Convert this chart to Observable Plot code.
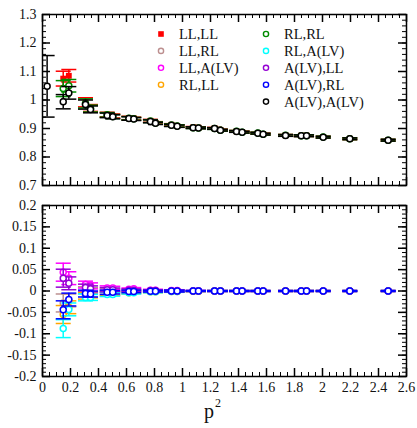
<!DOCTYPE html>
<html><head><meta charset="utf-8">
<script src="https://cdn.jsdelivr.net/npm/d3@7"></script>
<script src="https://cdn.jsdelivr.net/npm/@observablehq/plot@0.6"></script>
<style>
html,body{margin:0;padding:0;background:#fff;}
#wrap{position:relative;width:417px;height:428px;overflow:hidden;font-family:"Liberation Serif",serif;}
#top,#bot,#over{position:absolute;left:0;}
#top{top:0}#bot{top:195px}#over{top:0;pointer-events:none}
</style></head><body>
<div id="wrap"><div id="top"></div><div id="bot"></div><svg id="over" width="417" height="428"></svg></div>
<script>
// ---------- data ----------
const pSq = [0.033, 0.148, 0.188, 0.307, 0.343, 0.462, 0.502, 0.617, 0.652, 0.771, 0.807, 0.921, 0.962,
  1.076, 1.114, 1.229, 1.271, 1.386, 1.426, 1.538, 1.576, 1.736, 1.848, 1.886, 2.005, 2.195, 2.469];
const pSqMain = pSq.slice(1);

const seriesNames = ["LL,LL", "LL,RL", "LL,A(LV)", "RL,LL", "RL,RL", "RL,A(LV)", "A(LV),LL", "A(LV),RL", "A(LV),A(LV)"];
const seriesColors = ["#ff0000", "#bc8f8f", "#ff00ff", "#ffa500", "#008b00", "#00ffff", "#9400d3", "#0000ff", "#000000"];

// diagonal (top panel)
const yLLLL = [1.075, 1.085, 0.992, 0.972, 0.949, 0.944, 0.937, 0.935, 0.927, 0.920, 0.913, 0.909, 0.904, 0.903, 0.901, 0.895, 0.890, 0.888, 0.884, 0.881, 0.876, 0.875, 0.875, 0.870, 0.864, 0.859];
const eLLLL = [0.026, 0.022, 0.016, 0.012, 0.008, 0.007, 0.006, 0.005, 0.005, 0.004, 0.004, 0.004, 0.003, 0.003, 0.003, 0.003, 0.003, 0.003, 0.003, 0.003, 0.003, 0.003, 0.003, 0.003, 0.003, 0.003];
const yRLRL = [1.040, 1.050, 0.988, 0.970, 0.948, 0.942, 0.936, 0.934, 0.926, 0.919, 0.912, 0.909, 0.903, 0.902, 0.900, 0.894, 0.890, 0.887, 0.884, 0.880, 0.876, 0.875, 0.875, 0.870, 0.864, 0.859];
const eRLRL = [0.028, 0.022, 0.016, 0.012, 0.008, 0.007, 0.006, 0.005, 0.005, 0.004, 0.004, 0.004, 0.003, 0.003, 0.003, 0.003, 0.003, 0.003, 0.003, 0.003, 0.003, 0.003, 0.003, 0.003, 0.003, 0.003];
const yAA = [1.048, 0.994, 1.025, 0.984, 0.967, 0.946, 0.941, 0.935, 0.933, 0.925, 0.918, 0.911, 0.908, 0.903, 0.902, 0.900, 0.894, 0.8895, 0.887, 0.8835, 0.880, 0.8755, 0.8745, 0.8745, 0.8695, 0.864, 0.859];
const eAA = [0.108, 0.025, 0.022, 0.016, 0.012, 0.008, 0.007, 0.006, 0.005, 0.005, 0.004, 0.004, 0.004, 0.003, 0.003, 0.003, 0.003, 0.003, 0.003, 0.003, 0.003, 0.003, 0.003, 0.003, 0.003, 0.003, 0.003];

// off-diagonal (bottom panel)
const yLLRL = [-0.028, -0.022, 0.002, 0.001, 0.001, 0.001, 0.0005, 0.0005, 0, 0, 0, 0, 0, 0, 0, 0, 0, 0, 0, 0, 0, 0, 0, 0, 0, 0];
const yLLA = [0.044, 0.030, 0.015, 0.012, 0.007, 0.007, 0.004, 0.005, 0.002, 0.002, 0.001, 0.001, 0.0005, 0.0005, 0, 0, 0, 0, 0, 0, 0, 0, 0, 0, 0, 0];
const yRLLL = [-0.055, -0.038, -0.011, -0.009, -0.006, -0.006, -0.004, -0.003, -0.002, -0.002, -0.001, -0.001, -0.0005, -0.0005, 0, 0, 0, 0, 0, 0, 0, 0, 0, 0, 0, 0];
const yRLA = [-0.088, -0.043, -0.015, -0.015, -0.008, -0.008, -0.004, -0.004, -0.002, -0.002, -0.001, -0.001, 0, 0, 0, 0, 0, 0, 0, 0, 0, 0, 0, 0, 0, 0];
const yALL = [0.030, 0.018, 0.008, 0.005, 0.003, 0.003, 0.002, 0.002, 0.001, 0.001, 0, 0, 0, 0, 0, 0, 0, 0, 0, 0, 0, 0, 0, 0, 0, 0];
const yARL = [-0.044, -0.020, -0.006, -0.007, -0.003, -0.003, -0.001, -0.001, -0.0005, -0.0005, 0, 0, 0, 0, 0, 0, 0, 0, 0, 0, 0, 0, 0, 0, 0, 0];
const eOff = [0.021, 0.015, 0.008, 0.007, 0.005, 0.004, 0.003, 0.003, 0.002, 0.002, 0.002, 0.002, 0.001, 0.001, 0.001, 0.001, 0.001, 0.001, 0.001, 0.001, 0.001, 0.001, 0.001, 0.001, 0.001, 0.001];

// ticks
const xTicks = [0, 0.2, 0.4, 0.6, 0.8, 1, 1.2, 1.4, 1.6, 1.8, 2, 2.2, 2.4, 2.6];
const xTickLabels = ["0", "0.2", "0.4", "0.6", "0.8", "1", "1.2", "1.4", "1.6", "1.8", "2", "2.2", "2.4", "2.6"];
const yTicksTop = [0.7, 0.8, 0.9, 1, 1.1, 1.2, 1.3];
const yTickLabelsTop = ["0.7", "0.8", "0.9", "1", "1.1", "1.2", "1.3"];
const yTicksBot = [-0.2, -0.15, -0.1, -0.05, 0, 0.05, 0.1, 0.15, 0.2];
const yTickLabelsBot = ["-0.2", "-0.15", "-0.1", "-0.05", "0", "0.05", "0.1", "0.15", "0.2"];
const xLabel = "p";
const xLabelSup = "2";

// ---------- drawing ----------
const W = 417, ML = 42, MR = 11;
const FONT = "Liberation Serif";
const cap = {draw(ctx, size) { const w = Math.sqrt(size / Math.PI); ctx.moveTo(-w, 0); ctx.lineTo(w, 0); }};

function seriesDef(i, x, y, e) { return {name: seriesNames[i], color: seriesColors[i], x, y, e, square: i === 0}; }
const topSeries = [seriesDef(0, pSqMain, yLLLL, eLLLL), seriesDef(4, pSqMain, yRLRL, eRLRL), seriesDef(8, pSq, yAA, eAA)];
const botSeries = [seriesDef(1, pSqMain, yLLRL, eOff), seriesDef(2, pSqMain, yLLA, eOff), seriesDef(3, pSqMain, yRLLL, eOff),
  seriesDef(5, pSqMain, yRLA, eOff), seriesDef(6, pSqMain, yALL, eOff), seriesDef(7, pSqMain, yARL, eOff)];

function panel({series, yDomain, yTicks, yLabels, yMinorStep, height, marginTop, marginBottom, showX}) {
  const H = height - marginTop - marginBottom;
  const marks = [];
  for (const s of series) {
    const data = s.x.map((x, i) => ({x, y: s.y[i], e: s.e[i]}));
    marks.push(Plot.ruleX(data, {x: "x", y1: d => d.y - d.e, y2: d => d.y + d.e, stroke: s.color, strokeWidth: 1.5, clip: true}));
    marks.push(Plot.dot(data, {x: "x", y: d => d.y + d.e, symbol: cap, r: 7.5, fill: "none", stroke: s.color, strokeWidth: 1.5, clip: true}));
    marks.push(Plot.dot(data, {x: "x", y: d => d.y - d.e, symbol: cap, r: 7.5, fill: "none", stroke: s.color, strokeWidth: 1.5, clip: true}));
    if (s.square) marks.push(Plot.dot(data, {x: "x", y: "y", symbol: "square", r: 3.3, fill: s.color, stroke: "none", clip: true}));
    else marks.push(Plot.dot(data, {x: "x", y: "y", r: 3, fill: "white", stroke: s.color, strokeWidth: 1.5, clip: true}));
  }
  const xMinor = d3.range(0, 2.6001, 0.05);
  const yMinor = d3.range(yDomain[0], yDomain[1] + 1e-9, yMinorStep);
  const Wf = W - ML - MR;
  // inward ticks on four sides
  marks.push(Plot.ruleX(xMinor, {x: d => d, insetTop: H - 4, strokeWidth: 1}));
  marks.push(Plot.ruleX(xMinor, {x: d => d, insetBottom: H - 4, strokeWidth: 1}));
  marks.push(Plot.ruleX(xTicks, {x: d => d, insetTop: H - 8, strokeWidth: 1.5}));
  marks.push(Plot.ruleX(xTicks, {x: d => d, insetBottom: H - 8, strokeWidth: 1.5}));
  marks.push(Plot.ruleY(yMinor, {y: d => d, insetRight: Wf - 4, strokeWidth: 1}));
  marks.push(Plot.ruleY(yMinor, {y: d => d, insetLeft: Wf - 4, strokeWidth: 1}));
  marks.push(Plot.ruleY(yTicks, {y: d => d, insetRight: Wf - 8, strokeWidth: 1.5}));
  marks.push(Plot.ruleY(yTicks, {y: d => d, insetLeft: Wf - 8, strokeWidth: 1.5}));
  marks.push(Plot.frame({stroke: "black", strokeWidth: 1.5}));
  marks.push(Plot.axisY({ticks: yTicks, tickSize: 0, tickPadding: 6, fontSize: 14, fill: "#111",
    tickFormat: d => yLabels[yTicks.indexOf(d)], label: null}));
  if (showX) marks.push(Plot.axisX({ticks: xTicks, tickSize: 0, tickPadding: 6, fontSize: 14, fill: "#111",
    tickFormat: d => xTickLabels[xTicks.indexOf(d)], label: null}));
  return Plot.plot({
    width: W, height, marginLeft: ML, marginRight: MR, marginTop, marginBottom,
    style: {fontFamily: FONT, background: "transparent", overflow: "visible"},
    x: {domain: [0, 2.6], axis: showX ? undefined : null},
    y: {domain: yDomain, axis: null},
    marks
  });
}

document.getElementById("top").append(panel({series: topSeries, yDomain: [0.7, 1.3], yTicks: yTicksTop, yLabels: yTickLabelsTop,
  yMinorStep: 0.02, height: 195, marginTop: 14, marginBottom: 10, showX: false}));
document.getElementById("bot").append(panel({series: botSeries, yDomain: [-0.2, 0.2], yTicks: yTicksBot, yLabels: yTickLabelsBot,
  yMinorStep: 0.01, height: 233, marginTop: 10, marginBottom: 52, showX: true}));

// legend + axis label overlay
const over = d3.select("#over");
const legCols = [{mx: 161, tx: 179}, {mx: 266, tx: 284}];
seriesNames.forEach((name, i) => {
  const col = legCols[i < 4 ? 0 : 1];
  const row = i < 4 ? i : i - 4;
  const cy = 34 + row * 16.9;
  if (i === 0) over.append("rect").attr("x", col.mx - 2.8).attr("y", cy - 2.8).attr("width", 5.6).attr("height", 5.6).attr("fill", seriesColors[i]);
  else over.append("circle").attr("cx", col.mx).attr("cy", cy).attr("r", 2.6).attr("fill", "white").attr("stroke", seriesColors[i]).attr("stroke-width", 1.4);
  over.append("text").attr("x", col.tx).attr("y", cy + 5).attr("font-family", FONT).attr("font-size", 14.5).attr("fill", "#111").text(name);
});
const xl = over.append("text").attr("x", 204).attr("y", 418).attr("font-family", FONT).attr("font-size", 20).attr("fill", "#111");
xl.append("tspan").text(xLabel);
xl.append("tspan").attr("font-size", 12).attr("dy", -11).attr("dx", 1).text(xLabelSup);
</script>
</body></html>
